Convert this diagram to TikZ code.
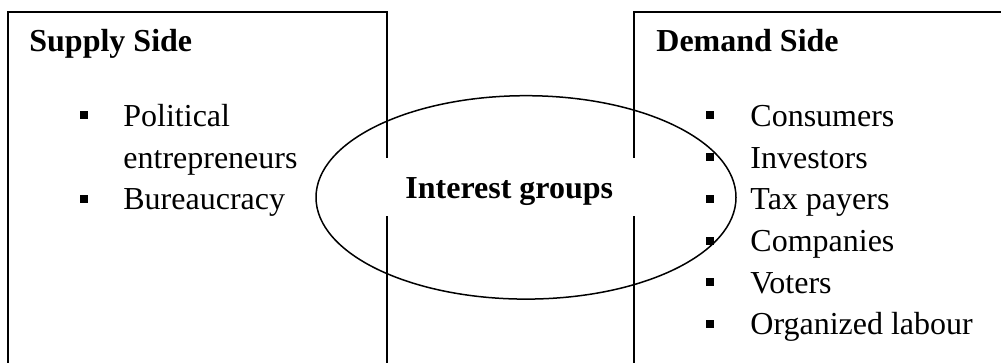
\documentclass[tikz,border=0pt]{standalone}
\usepackage{fontspec}
\setmainfont{Liberation Serif}
\usetikzlibrary{shapes.geometric}
\begin{document}
\begin{tikzpicture}[x=0.5pt,y=-0.5pt,
  boxline/.style={line width=1pt,line cap=rect},
  head/.style={anchor=base west,inner sep=0pt,font=\fontsize{16pt}{19pt}\selectfont\bfseries},
  item/.style={anchor=base west,inner sep=0pt,font=\fontsize{16pt}{19pt}\selectfont},
  bul/.style={fill=black,inner sep=0pt,minimum size=4pt,draw=none}]
\useasboundingbox (0,0) rectangle (1001,363);
\begin{scope}
\clip (0,0) rectangle (1001,363);
% left box (supply side)
\coordinate (lbl) at (8,370);
\coordinate (ltl) at (8,12);
\coordinate (ltr) at (387,12);
\coordinate (lga) at (387,157);
\coordinate (lgb) at (387,217);
\coordinate (lbr) at (387,370);
\draw[boxline] (lbl) -- (ltl) -- (ltr) -- (lga);
\draw[boxline] (lgb) -- (lbr);
% right box (demand side)
\coordinate (rbl) at (634,370);
\coordinate (rtl) at (634,12);
\coordinate (rtr) at (1010,12);
\coordinate (rga) at (634,157);
\coordinate (rgb) at (634,217);
\draw[boxline] (rga) -- (rtl) -- (rtr);
\draw[boxline] (rgb) -- (rbl);
\end{scope}
% ellipse
\node[ellipse,draw,line width=0.75pt,minimum width=210pt,minimum height=101.7pt,inner sep=0pt] (ig) at (526,197.4) {};
\node[head] (igt) at (405,198.3) {Interest groups};
% supply side
\node[head] (sup) at (29,52) {Supply Side};
\node[bul] (sb1) at (83.5,115.5) {};
\node[item] (s1) at (123,126.5) {Political};
\node[item] (s1b) at (123,168.2) {entrepreneurs};
\node[bul] (sb2) at (83.5,198.9) {};
\node[item] (s2) at (123,209.9) {Bureaucracy};
% demand side
\node[head] (dem) at (656,52) {Demand Side};
\foreach \t [count=\i from 0] in {Consumers,Investors,Tax payers,Companies,Voters,Organized labour}{
  \node[bul] (db\i) at (710,{115.5+41.7*\i}) {};
  \node[item] (d\i) at (750,{126.5+41.7*\i}) {\t};
}
\end{tikzpicture}
\end{document}
